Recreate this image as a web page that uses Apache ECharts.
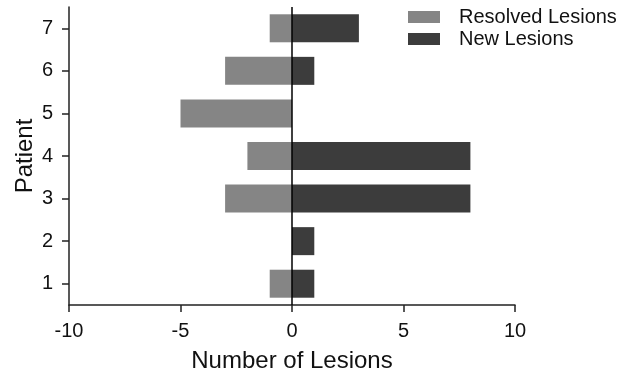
<!DOCTYPE html>
<html>
<head>
<meta charset="utf-8">
<script src="https://cdn.jsdelivr.net/npm/echarts@6/dist/echarts.min.js"></script>
<style>html,body{margin:0;padding:0;background:#fff}#c{width:635px;height:374px}</style>
</head>
<body>
<div id="c"></div>
<script>
const patients = ['1','2','3','4','5','6','7'];
const resolvedLesions = [-1, 0, -3, -2, -5, -3, -1];
const newLesions = [1, 1, 8, 8, 0, 1, 3];
const xTicks = { min: -10, max: 10, interval: 5 };

const FONT = '"Liberation Sans", Arial, Helvetica, sans-serif';
const TXT = '#111';
const chart = echarts.init(document.getElementById('c'));
chart.setOption({
  animation: false,
  backgroundColor: '#fff',
  textStyle: { fontFamily: FONT },
  legend: {
    orient: 'vertical',
    left: 403,
    top: 2,
    itemWidth: 32,
    itemHeight: 12,
    itemGap: 2,
    icon: 'rect',
    textStyle: { fontFamily: FONT, fontSize: 20, lineHeight: 20, color: TXT, padding: [0, 0, 0, 14] },
    data: ['Resolved Lesions', 'New Lesions']
  },
  grid: { left: 69, right: 120, top: 7, bottom: 69, containLabel: false, outerBoundsMode: 'none' },
  xAxis: {
    type: 'value',
    min: xTicks.min, max: xTicks.max, interval: xTicks.interval,
    name: 'Number of Lesions',
    nameLocation: 'middle',
    nameGap: 44,
    nameMoveOverlap: false,
    nameTextStyle: { fontFamily: FONT, fontSize: 24, color: TXT },
    axisLine: { show: true, onZero: false, lineStyle: { color: '#222', width: 1.5 } },
    axisTick: { show: true, length: 7, lineStyle: { color: '#222', width: 1.5 } },
    axisLabel: { fontFamily: FONT, fontSize: 20, color: TXT, margin: 16 },
    splitLine: { show: false }
  },
  yAxis: {
    type: 'category',
    data: patients,
    name: 'Patient',
    nameLocation: 'middle',
    nameGap: 32,
    nameMoveOverlap: false,
    nameRotate: 90,
    nameTextStyle: { fontFamily: FONT, fontSize: 24, color: TXT },
    axisLine: { show: true, onZero: false, lineStyle: { color: '#222', width: 1.5 } },
    axisTick: { show: true, alignWithLabel: true, length: 7, lineStyle: { color: '#222', width: 1.5 } },
    axisLabel: { fontFamily: FONT, fontSize: 20, color: TXT, margin: 16 },
    splitLine: { show: false }
  },
  series: [
    {
      name: 'Resolved Lesions',
      type: 'bar',
      data: resolvedLesions,
      barWidth: 28,
      barGap: '-100%',
      itemStyle: { color: '#858585' }
    },
    {
      name: 'New Lesions',
      type: 'bar',
      data: newLesions,
      barWidth: 28,
      barGap: '-100%',
      itemStyle: { color: '#3c3c3c' },
      markLine: {
        silent: true,
        symbol: 'none',
        label: { show: false },
        lineStyle: { color: '#000', width: 1.5, type: 'solid' },
        data: [{ xAxis: 0 }]
      }
    }
  ]
});
</script>
</body>
</html>
